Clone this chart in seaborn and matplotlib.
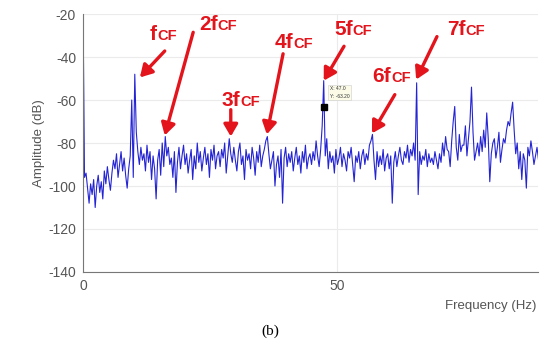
import numpy as np
import pandas as pd
import matplotlib
matplotlib.use("Agg")
import matplotlib.pyplot as plt
import seaborn as sns
from matplotlib.offsetbox import TextArea, HPacker, AnnotationBbox

# Spectrum sampled every 0.3 Hz from 0 to 90 Hz (dB)
amplitude_db = [
    -15, -96, -94, -101, -108, -99, -104, -97, -110, -100,
    -95, -103, -98, -106, -93, -99, -91, -97, -102, -94,
    -88, -92, -85, -96, -90, -84, -93, -87, -95, -101,
    -92, -86, -60, -96, -48, -75, -84, -90, -82, -88,
    -85, -93, -81, -89, -84, -97, -86, -92, -106, -88,
    -83, -95, -80, -91, -77, -86, -82, -90, -87, -96,
    -84, -103, -89, -82, -92, -86, -81, -90, -85, -94,
    -88, -83, -97, -86, -92, -80, -89, -84, -93, -87,
    -82, -90, -85, -96, -83, -88, -81, -92, -86, -84,
    -91, -83, -87, -80, -94, -86, -78, -85, -89, -82,
    -88, -93, -84, -80, -90, -86, -97, -83, -88, -85,
    -92, -82, -87, -95, -84, -89, -81, -91, -86, -83,
    -79, -77, -85, -92, -88, -84, -100, -90, -86, -96,
    -83, -108, -87, -82, -91, -85, -89, -84, -93, -87,
    -82, -90, -86, -94, -84, -89, -81, -92, -87, -85,
    -90, -84, -88, -79, -86, -91, -83, -72, -51, -86,
    -78, -92, -84, -89, -86, -94, -83, -90, -87, -82,
    -91, -85, -88, -93, -84, -87, -82, -90, -98, -86,
    -89, -84, -92, -86, -83, -90, -85, -88, -81, -79,
    -76, -88, -97, -84, -91, -86, -90, -83, -93, -87,
    -85, -92, -86, -108, -89, -84, -91, -86, -82, -88,
    -90, -84, -87, -81, -89, -83, -86, -80, -88, -52,
    -104, -84, -90, -86, -88, -83, -91, -85, -89, -87,
    -90, -84, -88, -92, -85, -89, -80, -86, -77, -83,
    -84, -91, -79, -70, -63, -82, -88, -76, -84, -81,
    -81, -72, -86, -78, -70, -54, -75, -88, -84, -80,
    -86, -77, -84, -74, -82, -66, -78, -98, -85, -80,
    -78, -87, -82, -75, -89, -83, -78, -80, -74, -70,
    -72, -66, -61, -74, -85, -80, -92, -84, -97, -85,
    -88, -101, -82, -86, -79, -84, -90, -86, -82, -88,
    -85,
]
frequency_hz = [round(0.3 * i, 1) for i in range(len(amplitude_db))]

# Harmonic labels: (prefix, arrow tip (Hz, dB), arrow tail, label centre)
harmonic_prefix = ["f", "2f", "3f", "4f", "5f", "6f", "7f"]
arrow_tip = [(11.2, -49.5), (16.1, -76.5), (29.1, -77.0), (36.2, -76.0),
             (47.4, -51.0), (56.9, -75.5), (65.6, -50.5)]
arrow_tail = [(16.1, -37.2), (21.7, -28.5), (29.1, -64.5), (39.4, -38.5),
              (51.4, -35.0), (61.4, -57.5), (69.7, -30.5)]
label_pos = [(15.8, -29.5), (26.6, -24.8), (31.0, -60.0), (41.5, -33.2),
             (53.2, -27.2), (60.8, -49.2), (75.4, -27.2)]

tip_x, tip_y = 47.4, -63.2

df = pd.DataFrame({"Frequency": frequency_hz, "Amplitude": amplitude_db})

sns.set_theme(style="whitegrid")
plt.rcParams["font.family"] = ["Liberation Sans", "DejaVu Sans"]
plt.rcParams["axes.unicode_minus"] = False

fig = plt.figure(figsize=(5.41, 3.42), dpi=100)
ax = fig.add_axes([0.1534, 0.2047, 0.8411, 0.7543])

sns.lineplot(data=df, x="Frequency", y="Amplitude", estimator=None,
             color="#2424d4", linewidth=0.8, ax=ax)

ax.set_xlim(0, 89.6)
ax.set_ylim(-140, -20)
ax.set_xticks([0, 50])
ax.set_yticks(np.arange(-140, -19, 20))
ax.set_xlabel("")
ax.set_ylabel("Amplitude (dB)", color="#555555", fontsize=9.5, labelpad=2)
ax.tick_params(axis="both", colors="#555555", labelsize=10, length=3,
               direction="out", pad=2)
ax.grid(True, color="#ebebeb", linewidth=0.8)
for side in ("top", "right"):
    ax.spines[side].set_visible(False)
for side in ("left", "bottom"):
    ax.spines[side].set_color("#777777")
    ax.spines[side].set_linewidth(0.8)

# data tip
ax.plot([tip_x], [tip_y], marker="s", color="black", markersize=4)
ax.text(48.6, -56.5, "X: 47.0\nY: -63.20", fontsize=3.5, color="#333333",
        va="center", ha="left", linespacing=1.6,
        bbox=dict(boxstyle="square,pad=0.3", fc="#fbfbe8", ec="#cccccc", lw=0.4))

red = "#e3141b"
for prefix, tip, tail, pos in zip(harmonic_prefix, arrow_tip, arrow_tail, label_pos):
    ax.annotate("", xy=tip, xytext=tail,
                arrowprops=dict(arrowstyle="-|>,head_length=0.6,head_width=0.35",
                                color=red, lw=2.4, shrinkA=0, shrinkB=0))
    big = TextArea(prefix, textprops=dict(color=red, fontsize=15, fontweight="bold"))
    small = TextArea("CF", textprops=dict(color=red, fontsize=10.5, fontweight="bold"))
    pack = HPacker(children=[big, small], align="baseline", pad=0, sep=0)
    ab = AnnotationBbox(pack, pos, xycoords="data", frameon=False,
                        box_alignment=(0.5, 0.5), annotation_clip=False)
    ax.add_artist(ab)

fig.text(0.991, 0.105, "Frequency (Hz)", ha="right", va="center",
         color="#555555", fontsize=9.5)
fig.text(0.5, 0.032, "(b)", ha="center", va="center", fontsize=11,
         family=["Liberation Serif", "DejaVu Serif"], color="black")

fig.savefig("out.png", dpi=100)
